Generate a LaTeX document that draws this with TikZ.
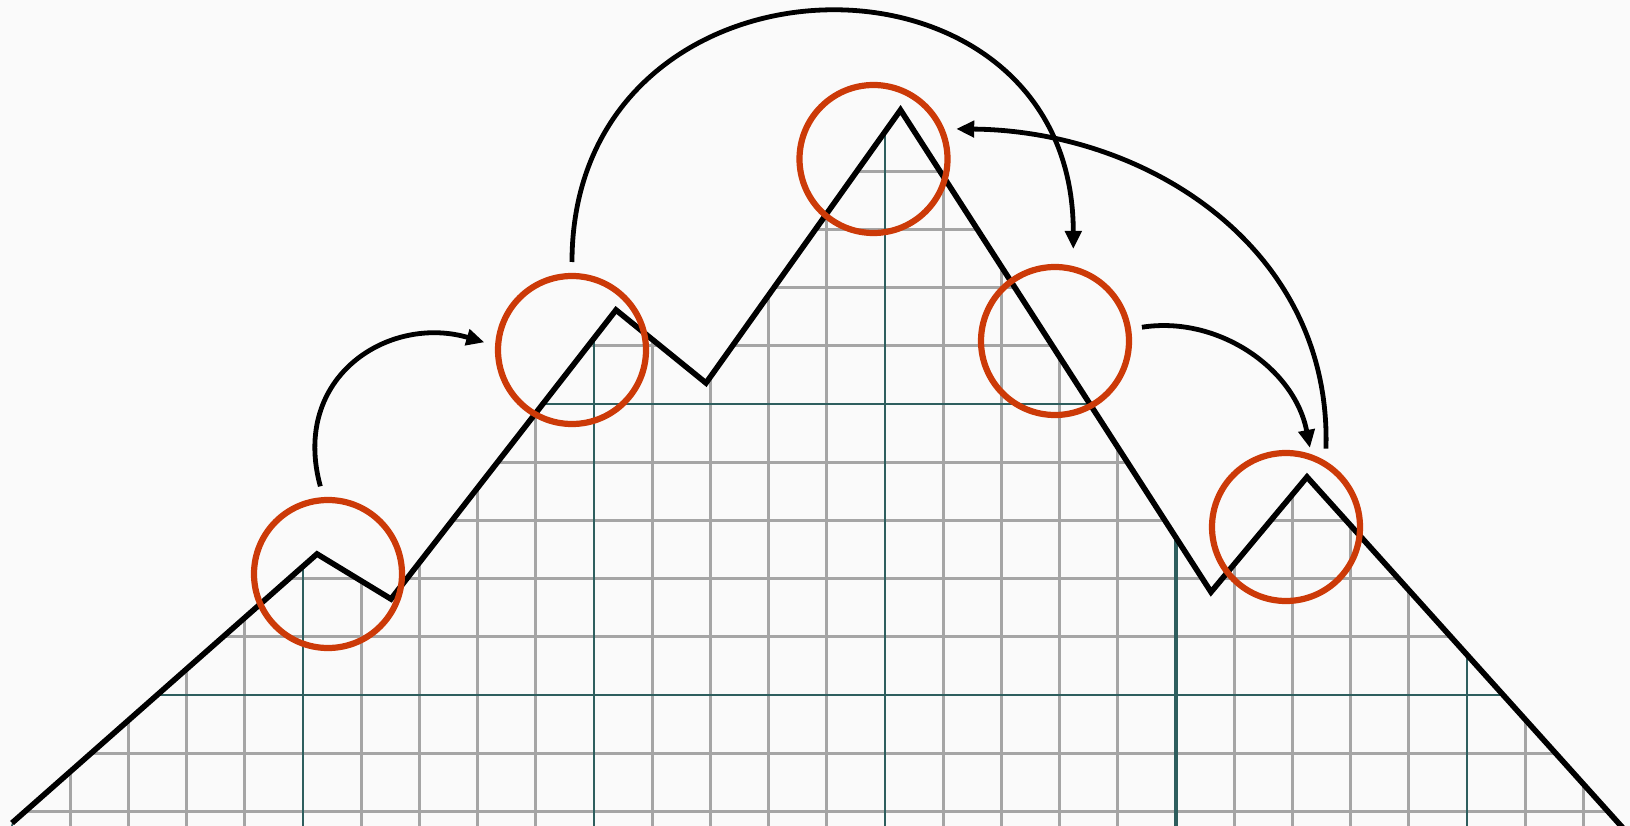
\documentclass[tikz,border=0pt]{standalone}
\usetikzlibrary{arrows.meta}

\definecolor{paper}{RGB}{250,250,250}
\definecolor{gridgray}{RGB}{165,165,165}
\definecolor{gridteal}{RGB}{46,94,94}
\definecolor{ringred}{RGB}{204,58,8}

\begin{document}
\begin{tikzpicture}[x=1pt, y=-1pt, line width=5.6pt, line join=round,
    spot/.style={circle, draw=ringred, line width=6.2pt, minimum size=148pt, inner sep=0pt, outer sep=14pt},
    hop/.style={line width=4.8pt, -{Triangle[length=18pt,width=16pt]}},
    minor/.style={gridgray, line width=2.9pt},
    major/.style={gridteal, line width=2.9pt}]

  %% ════ 底色 ════
  \fill[paper] (0,0) rectangle (1630,826);

  %% ════ 网格（只留山形之下）════
  \begin{scope}
    \clip (12,823) -- (317,554) -- (391,599) -- (616,310) -- (706,383) -- (900.5,110)
          -- (1211,592) -- (1307,477) -- (1640,847) -- (1640,860) -- (0,860) -- cycle;
    \foreach \i in {0,...,27}
      \draw[minor] ({12+58.2*\i},100) -- ({12+58.2*\i},860);
    \foreach \j in {0,...,12}
      \draw[minor] (0,{113+58.2*\j}) -- (1640,{113+58.2*\j});
    % 每五格一条深色线
    \foreach \i in {0,5,...,25}
      \draw[major] ({12+58.2*\i},100) -- ({12+58.2*\i},860);
    \foreach \j in {0,5,10}
      \draw[major] (0,{113+58.2*\j}) -- (1640,{113+58.2*\j});
    \draw[major, line width=4.8pt] (1176,100) -- (1176,860);
  \end{scope}

  %% ════ 山脊折线 ════
  \draw[line join=miter] (12,823) -- (317,554) -- (391,599) -- (616,310) -- (706,383)
        -- (900.5,110) -- (1211,592) -- (1307,477) -- (1640,847);

  %% ════ 红圈 ════
  \node[spot] (c1) at (328,574) {};
  \node[spot] (c2) at (572,350) {};
  \node[spot] (c3) at (873.5,159) {};
  \node[spot] (c4) at (1055,341) {};
  \node[spot] (c5) at (1286,527) {};

  %% ════ 跳转箭头 ════
  \draw[hop] (c1.95) .. controls +(-30,-110) and +(-95,-28) .. (c2.175);
  \draw[hop, shorten >=6pt] (c2.90) .. controls +(0,-327) and +(0,-328) .. (c4.78);
  \draw[hop, shorten >=-6pt] (c4.9) .. controls +(76,-12) and +(-14,-73.5) .. (c5.75);
  \draw[hop] (c5.63) .. controls +(6,-198) and +(194,2) .. (c3.20);

  % 钉死画布
  \pgfresetboundingbox
  \path[use as bounding box] (0,0) rectangle (1630,826);
\end{tikzpicture}
\end{document}
